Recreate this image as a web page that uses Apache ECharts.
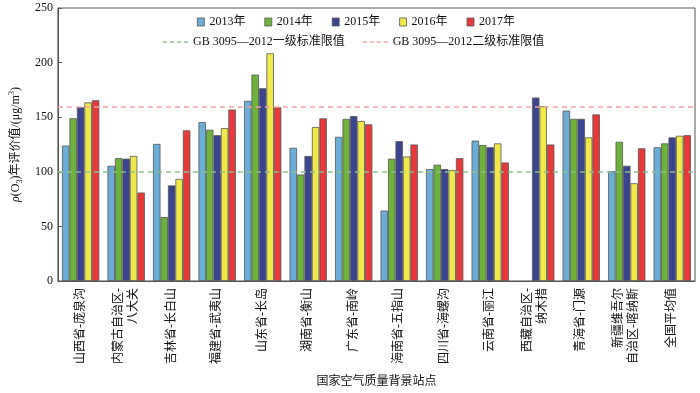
<!DOCTYPE html>
<html>
<head>
<meta charset="utf-8">
<script src="https://cdn.jsdelivr.net/npm/echarts@6/dist/echarts.min.js"></script>
<style>
html,body{margin:0;padding:0;background:#fff;}
#c{width:700px;height:393px;}
</style>
</head>
<body>
<div id="c"></div>
<script>
const categories = ['山西省-庞泉沟','内蒙古自治区-\n八大关','吉林省-长白山','福建省-武夷山','山东省-长岛','湖南省-衡山','广东省-南岭','海南省-五指山','四川省-海螺沟','云南省-丽江','西藏自治区-\n纳木措','青海省-门源','新疆维吾尔\n自治区-喀纳斯','全国平均值'];
const years = ['2013年','2014年','2015年','2016年','2017年'];
const v2013 = [124,105.5,125.5,145.5,165,122,132,64.5,102.5,128.5,null,156,100.5,122.5];
const v2014 = [149,112.5,58.5,138.5,189,97.5,148.5,112,106.5,124.5,null,148.5,127.5,126];
const v2015 = [159,112,87.5,133.5,176.5,114.5,151,128,102.5,122.5,168,148.5,105.5,131.5];
const v2016 = [163.5,114.5,93.5,140,208.5,141,146.5,114,101.5,126,160,131.5,89.5,133];
const v2017 = [165.5,81,138,157,159,149,143.5,125,112.5,108.5,125,152.5,121.5,133.5];
const standardNames = ['GB 3095—2012一级标准限值','GB 3095—2012二级标准限值'];
const standardValues = [100, 160];
const yTicks = {min: 0, max: 250, interval: 50};

const barColors = ['#6aaed8','#6cb23c','#3b448f','#f1e94a','#e8393a'];
const lineColors = ['#8fbf8f','#f5a3a3'];
const FONT = '"Liberation Serif","Times New Roman","Noto Sans CJK SC",serif';
const dashIcon = 'path://M0,0h4v1.6h-4z M7,0h4v1.6h-4z M14,0h4v1.6h-4z M21,0h4v1.6h-4z';

const seriesVals = [v2013, v2014, v2015, v2016, v2017];
const series = seriesVals.map((d, i) => ({
  name: years[i], type: 'bar', data: d,
  barGap: '0%', barCategoryGap: '18%',
  itemStyle: {color: barColors[i], borderColor: '#555', borderWidth: 0.8}
}));
standardValues.forEach((v, i) => {
  series.push({
    name: standardNames[i], type: 'line', data: [],
    color: lineColors[i],
    lineStyle: {color: lineColors[i]},
    markLine: {
      silent: true, symbol: 'none', label: {show: false},
      lineStyle: {color: lineColors[i], type: [5, 4], width: 1.5},
      data: [{yAxis: v}]
    }
  });
});

const chart = echarts.init(document.getElementById('c'), null, {renderer: 'canvas'});
chart.setOption({
  animation: false,
  textStyle: {fontFamily: FONT, color: '#111'},
  grid: {left: 50, right: 5, top: 8, bottom: 110, show: true, borderColor: '#555', borderWidth: 1, backgroundColor: 'transparent'},
  legend: [
    {data: years, left: 197, top: 16, padding: 0, itemGap: 19, itemWidth: 7, itemHeight: 8,
     icon: 'rect', itemStyle: {borderColor: '#555', borderWidth: 0.8},
     textStyle: {fontFamily: FONT, fontSize: 12, color: '#111'}},
    {data: standardNames.map(n => ({name: n, icon: dashIcon})), left: 163, top: 36, padding: 0,
     itemGap: 18, itemWidth: 25, itemHeight: 12,
     textStyle: {fontFamily: FONT, fontSize: 12, color: '#111'}}
  ],
  xAxis: {
    type: 'category', data: categories,
    axisLine: {lineStyle: {color: '#555'}},
    axisTick: {inside: true, length: 5, alignWithLabel: false, lineStyle: {color: '#555'}},
    axisLabel: {rotate: 90, fontSize: 12, margin: 7, lineHeight: 15, color: '#111', fontFamily: FONT, interval: 0},
    name: '国家空气质量背景站点', nameLocation: 'middle', nameGap: 95,
    nameTextStyle: {fontSize: 12, color: '#111', fontFamily: FONT}
  },
  yAxis: {
    type: 'value', min: yTicks.min, max: yTicks.max, interval: yTicks.interval,
    splitLine: {show: false},
    axisLine: {show: true, lineStyle: {color: '#555'}},
    axisTick: {show: true, inside: true, length: 4, lineStyle: {color: '#555'}},
    axisLabel: {fontSize: 12, color: '#111', fontFamily: FONT, margin: 5},
    name: '{i|ρ}(O{sub|3})年评价值/(μg/m{sup|3})', nameLocation: 'middle', nameGap: 28,
    nameTextStyle: {
      fontSize: 12, color: '#111', fontFamily: FONT, lineHeight: 16,
      rich: {
        i: {fontStyle: 'italic', fontSize: 12, fontFamily: FONT, color: '#111'},
        sub: {fontSize: 8, verticalAlign: 'bottom', fontFamily: FONT, color: '#111', lineHeight: 16},
        sup: {fontSize: 8, verticalAlign: 'top', fontFamily: FONT, color: '#111', lineHeight: 16}
      }
    }
  },
  series: series
});
</script>
</body>
</html>
